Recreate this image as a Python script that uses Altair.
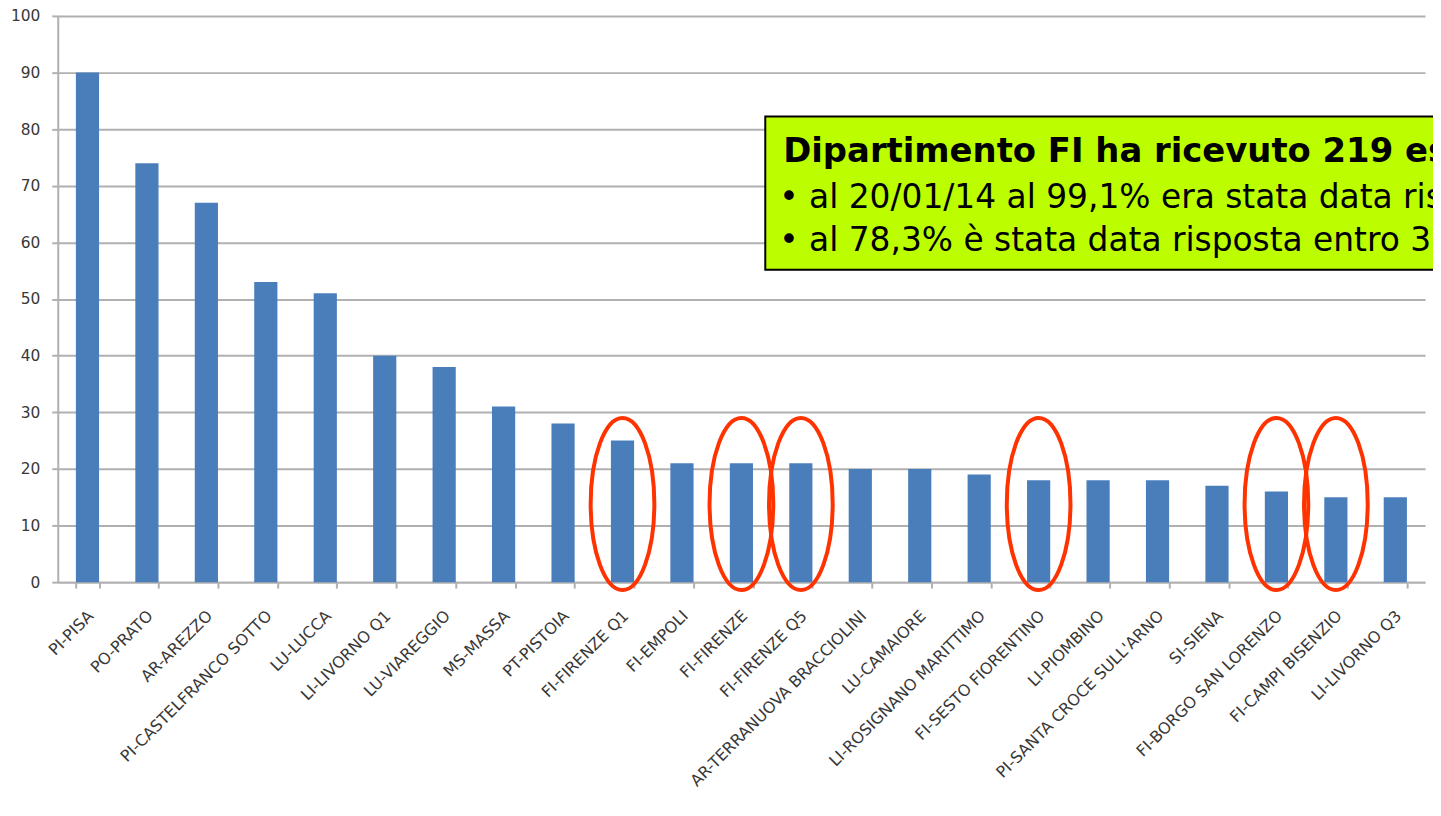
import altair as alt
import pandas as pd

categories = [
    "PI-PISA", "PO-PRATO", "AR-AREZZO", "PI-CASTELFRANCO SOTTO", "LU-LUCCA",
    "LI-LIVORNO Q1", "LU-VIAREGGIO", "MS-MASSA", "PT-PISTOIA", "FI-FIRENZE Q1",
    "FI-EMPOLI", "FI-FIRENZE", "FI-FIRENZE Q5", "AR-TERRANUOVA BRACCIOLINI",
    "LU-CAMAIORE", "LI-ROSIGNANO MARITTIMO", "FI-SESTO FIORENTINO", "LI-PIOMBINO",
    "PI-SANTA CROCE SULL'ARNO", "SI-SIENA", "FI-BORGO SAN LORENZO",
    "FI-CAMPI BISENZIO", "LI-LIVORNO Q3",
]
values = [90, 74, 67, 53, 51, 40, 38, 31, 28, 25, 21, 21, 21, 20, 20, 19, 18, 18, 18, 17, 16, 15, 15]
highlighted = [
    "FI-FIRENZE Q1", "FI-FIRENZE", "FI-FIRENZE Q5",
    "FI-SESTO FIORENTINO", "FI-BORGO SAN LORENZO", "FI-CAMPI BISENZIO",
]
y_ticks = [0, 10, 20, 30, 40, 50, 60, 70, 80, 90, 100]
box_title = "Dipartimento FI ha ricevuto 219 esposti"
box_lines = [
    "\u2022 al 20/01/14 al 99,1% era stata data risposta",
    "\u2022 al 78,3% \u00e8 stata data risposta entro 30 giorni",
]

df = pd.DataFrame({"cat": categories, "val": values})
df_hl = pd.DataFrame({"cat": highlighted})

GRID = "#b0b0b0"
LABEL = "#383838"
FONT = "DejaVu Sans"

x_scale = alt.Scale(domain=categories, paddingInner=0.61, paddingOuter=0.305)
y_scale = alt.Scale(domain=[0, 100])

bars = alt.Chart(df).mark_bar(color="#4a7ebb").encode(
    x=alt.X("cat:N", scale=x_scale, axis=alt.Axis(
        title="", labelAngle=-45, labelAlign="right", labelBaseline="middle",
        labelFont=FONT, labelFontSize=16, labelColor=LABEL, labelPadding=25,
        labelOffset=3, labelLimit=400, labelOverlap=False, tickBand="extent",
        tickSize=6, tickColor=GRID, tickWidth=2, domainColor=GRID, domainWidth=2)),
    y=alt.Y("val:Q", scale=y_scale, axis=alt.Axis(
        title="", values=y_ticks, grid=True, gridColor=GRID, gridWidth=2,
        domainColor=GRID, domainWidth=2, tickColor=GRID, tickWidth=2, tickSize=6,
        labelFont=FONT, labelFontSize=15.5, labelColor=LABEL, labelPadding=12)),
)

ellipse_path = "M -0.37 0 A 0.37 1 0 1 0 0.37 0 A 0.37 1 0 1 0 -0.37 0 Z"
ellipses = alt.Chart(df_hl).mark_point(
    shape=ellipse_path, size=29929, filled=False, stroke="#ff3300",
    strokeWidth=4, opacity=1,
).encode(
    x=alt.X("cat:N", scale=x_scale),
    y=alt.datum(13.8),
)

box = alt.Chart(pd.DataFrame({"t": [box_title]})).mark_rect(
    fill="#bcfd00", stroke="black", strokeWidth=2,
).encode(
    x=alt.value(711), x2=alt.value(1500), y=alt.value(101), y2=alt.value(255),
)

title_text = alt.Chart(pd.DataFrame({"t": [box_title]})).mark_text(
    align="left", baseline="alphabetic", font=FONT, fontSize=34,
    fontWeight="bold", color="black",
).encode(x=alt.value(729), y=alt.value(147), text="t:N")

line2 = alt.Chart(pd.DataFrame({"t": [box_lines[0]]})).mark_text(
    align="left", baseline="alphabetic", font=FONT, fontSize=33, color="black",
).encode(x=alt.value(725), y=alt.value(192.7), text="t:N")

line3 = alt.Chart(pd.DataFrame({"t": [box_lines[1]]})).mark_text(
    align="left", baseline="alphabetic", font=FONT, fontSize=33, color="black",
).encode(x=alt.value(725), y=alt.value(236), text="t:N")

chart = alt.layer(bars, ellipses, box, title_text, line2, line3).properties(
    width=1374, height=569,
    padding={"left": 50, "top": 6, "right": 8, "bottom": 218},
    autosize=alt.AutoSizeParams(type="none"),
    background="white",
).configure_view(stroke="transparent")

chart.save("out.html", embed_options={"renderer": "svg", "actions": False})
